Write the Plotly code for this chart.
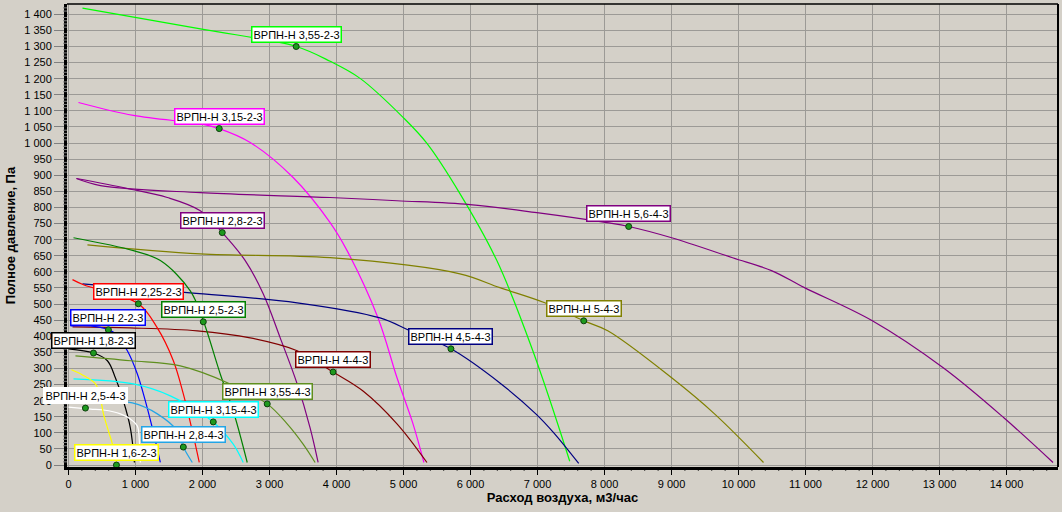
import plotly.graph_objects as go

# ---------------- data (airflow m3/h, total pressure Pa) ----------------
names = ["ВРПН-Н 3,55-2-3", "ВРПН-Н 3,15-2-3", "ВРПН-Н 2,8-2-3", "ВРПН-Н 5,6-4-3",
         "ВРПН-Н 5-4-3", "ВРПН-Н 4,5-4-3", "ВРПН-Н 4-4-3", "ВРПН-Н 2,25-2-3",
         "ВРПН-Н 2,5-2-3", "ВРПН-Н 2-2-3", "ВРПН-Н 1,8-2-3", "ВРПН-Н 3,55-4-3",
         "ВРПН-Н 3,15-4-3", "ВРПН-Н 2,8-4-3", "ВРПН-Н 2,5-4-3", "ВРПН-Н 1,6-2-3"]

q_355_2 = [209, 2012, 3398, 3905, 4352, 4993, 5350, 5842, 6393, 6930, 7481]
p_355_2 = [1419, 1353, 1300, 1254, 1201, 1080, 999, 843, 635, 355, 12]

q_315_2 = [149, 969, 2012, 2250, 2712, 3353, 3905, 4158, 4620, 4903, 5142, 5305]
p_315_2 = [1126, 1086, 1058, 1045, 1002, 893, 753, 666, 457, 271, 128, 8]

q_28_2 = [119, 879, 1475, 1967, 2295, 2638, 2906, 3160, 3413, 3607, 3726]
p_28_2 = [890, 859, 831, 790, 722, 635, 532, 395, 252, 115, 8]

q_56_4 = [119, 477, 1967, 3905, 4903, 5991, 6990, 8033, 8361, 9002, 9911, 10492, 10984, 11997, 13055, 13964, 14694]
p_56_4 = [890, 868, 846, 831, 821, 809, 784, 753, 741, 706, 644, 604, 551, 448, 302, 146, 8]

q_5_4 = [283, 1967, 3905, 5842, 6438, 7109, 7690, 8048, 9002, 9642, 10373]
p_5_4 = [684, 656, 644, 594, 551, 504, 448, 417, 271, 159, 8]

q_45_4 = [209, 1818, 3413, 4650, 5097, 5708, 6438, 6975, 7243, 7615]
p_45_4 = [563, 535, 504, 457, 417, 361, 255, 159, 100, 5]

q_4_4 = [60, 924, 1923, 2712, 3413, 3949, 4396, 4903, 5350]
p_4_4 = [429, 426, 417, 395, 355, 289, 230, 128, 8]

q_225_2 = [60, 224, 1043, 1326, 1565, 1714, 1848, 1952]
p_225_2 = [576, 560, 501, 426, 324, 221, 106, 8]

q_25_2 = [75, 969, 1371, 1818, 2012, 2265, 2459, 2668]
p_25_2 = [706, 666, 635, 541, 448, 283, 168, 8]

q_2_2 = [30, 328, 596, 700, 879, 1028, 1118, 1252, 1371]
p_2_2 = [432, 432, 420, 408, 355, 283, 221, 115, 8]

q_18_2 = [0, 373, 581, 700, 820, 924, 984]
p_18_2 = [361, 348, 324, 271, 199, 115, 8]

q_355_4 = [104, 924, 1669, 2414, 2966, 3264, 3502, 3681]
p_355_4 = [339, 324, 308, 252, 190, 128, 65, 8]

q_315_4 = [75, 969, 1520, 2161, 2459, 2608]
p_315_4 = [268, 252, 215, 134, 65, 8]

q_28_4 = [30, 954, 1326, 1624, 1714, 1848]
p_28_4 = [205, 193, 159, 106, 56, 8]

q_25_4 = [0, 328, 522, 775, 924, 1028, 1058, 1073]
p_25_4 = [180, 174, 171, 159, 143, 121, 75, 8]

q_16_2 = [45, 209, 402, 477, 522, 596, 656, 716]
p_16_2 = [296, 280, 252, 208, 159, 106, 65, 5]

curves_q = [q_355_2, q_315_2, q_28_2, q_56_4, q_5_4, q_45_4, q_4_4, q_225_2,
            q_25_2, q_2_2, q_18_2, q_355_4, q_315_4, q_28_4, q_25_4, q_16_2]
curves_p = [p_355_2, p_315_2, p_28_2, p_56_4, p_5_4, p_45_4, p_4_4, p_225_2,
            p_25_2, p_2_2, p_18_2, p_355_4, p_315_4, p_28_4, p_25_4, p_16_2]

# labelled operating points
mark_q = [3398, 2250, 2295, 8361, 7690, 5708, 3949, 1043, 2012, 596, 373, 2966, 2161, 1714, 253, 716]
mark_p = [1300, 1045, 722, 741, 448, 361, 289, 501, 445, 420, 348, 190, 134, 56, 177, 0]

x_ticks = list(range(0, 15000, 1000))
y_ticks = list(range(0, 1450, 50))
x_minor = list(range(0, 14800, 200))
y_minor = list(range(0, 1430, 10))

# ---------------- styles ----------------
colors = ["#00FF00", "#FF00FF", "#800080", "#800080", "#808000", "#000080", "#800000", "#FF0000",
          "#008000", "#0000FF", "#000000", "#5F8F1F", "#00FFFF", "#23A5E6", "#FFFFFF", "#FFFF00"]
BG = "#D4D0C8"
grid_col = "#9C9A96"


def fmt(v):
    return f"{v:,}".replace(",", " ")


fig = go.Figure()

for q, p, c, n in zip(curves_q, curves_p, colors, names):
    fig.add_trace(go.Scatter(x=q, y=p, mode="lines", name=n,
                             line=dict(color=c, width=1.2, shape="spline", smoothing=1.0),
                             hoverinfo="skip"))

fig.add_trace(go.Scatter(x=mark_q, y=mark_p, mode="markers",
                         marker=dict(color="#1E9A1E", size=6, line=dict(color="#0B3D0B", width=1)),
                         hoverinfo="skip"))

for q, p, c, n in zip(mark_q, mark_p, colors, names):
    fig.add_annotation(x=q, y=p, text=n, showarrow=False, xanchor="center", yanchor="bottom",
                       yshift=4, bgcolor="white", bordercolor=c, borderwidth=1.5, borderpad=1,
                       font=dict(family="Liberation Sans, Arial", size=11, color="black"))

axis_font = dict(family="Liberation Sans, Arial", size=11, color="black")
fig.update_layout(
    width=1062, height=512,
    margin=dict(l=67, r=4, t=4, b=45),
    paper_bgcolor=BG, plot_bgcolor=BG,
    showlegend=False,
    xaxis=dict(range=[-22, 14768], tickvals=x_ticks, ticktext=[fmt(v) for v in x_ticks],
               showgrid=True, gridcolor=grid_col, gridwidth=1,
               zeroline=False, showline=True, linecolor="black", linewidth=3,
               ticks="outside", ticklen=5, tickcolor="black", tickfont=axis_font,
               title=dict(text="<b>Расход воздуха, м3/час</b>", standoff=4,
                          font=dict(family="Liberation Sans, Arial", size=13, color="black"))),
    yaxis=dict(range=[-6, 1432], tickvals=y_ticks, ticktext=[fmt(v) for v in y_ticks],
               showgrid=True, gridcolor=grid_col, gridwidth=1,
               zeroline=False, showline=True, linecolor="black", linewidth=3,
               ticks="outside", ticklen=10, tickcolor="#808080", tickfont=axis_font,
               title=dict(text="<b>Полное давление, Па</b>", standoff=6,
                          font=dict(family="Liberation Sans, Arial", size=13, color="black"))),
)

# minor ticks drawn as short paper-anchored segments
for v in x_minor:
    if v % 1000:
        fig.add_shape(type="line", xref="x", yref="paper", x0=v, x1=v, y0=0, y1=-0.008,
                      line=dict(color="black", width=1), layer="above")
for v in y_minor:
    if v % 50:
        fig.add_shape(type="line", xref="paper", yref="y", x0=0, x1=-0.004, y0=v, y1=v,
                      line=dict(color="#808080", width=1), layer="above")

# frame top and right
fig.add_shape(type="line", xref="paper", yref="paper", x0=0, x1=1, y0=1, y1=1,
              line=dict(color="black", width=1.5))
fig.add_shape(type="line", xref="paper", yref="paper", x0=1, x1=1, y0=0, y1=1,
              line=dict(color="black", width=2))

fig.write_html("out.html")
